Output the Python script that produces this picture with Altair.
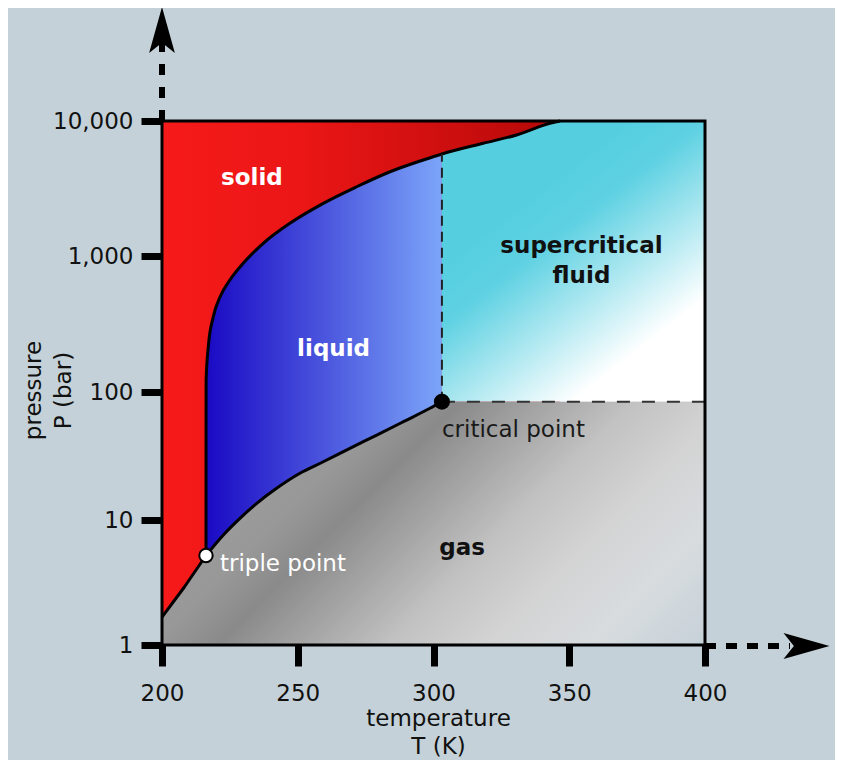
import altair as alt
import pandas as pd

# ---------------- data ----------------
# melting curve (solid | liquid, solid | supercritical), T in K, P in bar
melt_T = [216.2, 216.21, 216.22, 216.23, 216.25, 217.05, 218.9, 221.4, 225.0, 229.9,
          237.3, 247.1, 259.4, 271.7, 284.0, 296.2, 303.1, 318.3, 330.6, 342.9, 346.6]
melt_P = [5.2, 11.3, 27.7, 68.2, 122.5, 215, 358, 502, 666, 883,
          1242, 1746, 2455, 3258, 4207, 5140, 5700, 6842, 7875, 9615, 10000]
# sublimation curve (solid | gas)
sub_T = [200.0, 208.25, 216.2]
sub_P = [1.67, 2.91, 5.2]
# vaporisation curve (liquid | gas)
vap_T = [216.2, 222.6, 228.7, 234.9, 242.2, 250.8, 259.4, 269.2, 279.1, 288.9, 298.7, 303.1]
vap_P = [5.2, 7.59, 10.3, 13.5, 17.7, 23.2, 28.5, 36.3, 46.1, 58.6, 74.6, 84.0]

triple_T, triple_P = 216.2, 5.2
crit_T, crit_P = 303.1, 84.0

T_range = [200, 400]
P_range = [1, 10000]
T_ticks = [200, 250, 300, 350, 400]
P_ticks = [1, 10, 100, 1000, 10000]

region_white = ["solid", "liquid"]
region_white_T = [233.1, 263.2]
region_white_P = [3357, 184]
region_black = ["supercritical", "fluid", "gas"]
region_black_T = [354.5, 354.5, 310.5]
region_black_P = [1052, 638, 5.25]

# ---------------- scales and axes ----------------
FONT = "DejaVu Sans"
xs = alt.Scale(domain=T_range, nice=False, zero=False)
ys = alt.Scale(type="log", domain=P_ticks, range=[524, 399, 271, 135, 0], nice=False)

xaxis = alt.Axis(values=T_ticks, format="d", title=["temperature", "T (K)"], grid=False,
                 domain=False, tickColor="black", tickWidth=7, tickSize=21, tickCap="butt",
                 labelFont=FONT, labelFontSize=23, labelColor="#111111", labelPadding=16,
                 labelFlush=False, labelOverlap=False,
                 titleFont=FONT, titleFontSize=23, titleFontWeight="normal", titleColor="#111111",
                 titleX=276, titleY=80, titleAlign="center", titleBaseline="alphabetic",
                 titleLineHeight=28)
yaxis = alt.Axis(values=P_ticks, labelExpr="format(datum.value, ',')", title=["pressure", "P (bar)"],
                 grid=False, domain=False, tickColor="black", tickWidth=7, tickSize=21, tickCap="butt",
                 labelFont=FONT, labelFontSize=23, labelColor="#111111", labelPadding=8,
                 labelFlush=False, labelOverlap=False,
                 titleFont=FONT, titleFontSize=23, titleFontWeight="normal", titleColor="#111111",
                 titleAngle=270, titleX=-122, titleY=269, titleAlign="center",
                 titleBaseline="alphabetic", titleLineHeight=30)


def X(f="T"):
    return alt.X(f"{f}:Q", scale=xs, axis=xaxis)


def Y(f="P"):
    return alt.Y(f"{f}:Q", scale=ys, axis=yaxis)


GS = alt.GradientStop
red_grad = alt.Gradient(gradient="linear", x1=0, y1=0, x2=1, y2=0,
                        stops=[GS(color="#f61a1a", offset=0), GS(color="#eb1616", offset=0.35),
                               GS(color="#cb0e0e", offset=0.75), GS(color="#b20808", offset=1)])
blue_grad = alt.Gradient(gradient="linear", x1=0, y1=0, x2=1, y2=0,
                         stops=[GS(color="#1a0ac4", offset=0), GS(color="#4a55dd", offset=0.5),
                                GS(color="#7ca5f9", offset=1)])
cyan_grad = alt.Gradient(gradient="linear", x1=0.3, y1=0.3, x2=0.7, y2=0.85,
                         stops=[GS(color="#55cfe0", offset=0), GS(color="#5ed1e2", offset=0.25),
                                GS(color="#ffffff", offset=1)])
gas_grad = alt.Gradient(gradient="linear", x1=0, y1=0, x2=1.206, y2=0.542,
                        stops=[GS(color="#a4a4a4", offset=0), GS(color="#989898", offset=0.3),
                               GS(color="#8a8a8a", offset=0.38), GS(color="#c2c2c2", offset=0.6),
                               GS(color="#d3d3d3", offset=0.72), GS(color="#d8dcdf", offset=0.85),
                               GS(color="#c6d1d8", offset=1)])

# ---------------- tables ----------------
red_df = pd.DataFrame({"T": [T_range[0]], "T2": [melt_T[-1]], "P": [P_range[0]], "P2": [P_range[1]]})

blue_pts = [(t, p) for t, p in zip(melt_T, melt_P) if t <= crit_T]
blue_df = pd.DataFrame({"T": [t for t, _ in blue_pts], "P": [p for _, p in blue_pts],
                        "B": [float(P_range[0])] * len(blue_pts)})

sc_pts = [(t, p) for t, p in zip(melt_T, melt_P) if t >= crit_T] + [(T_range[1], P_range[1])]
sc_df = pd.DataFrame({"T": [t for t, _ in sc_pts], "P": [p for _, p in sc_pts],
                      "B": [crit_P] * len(sc_pts)})

gas_T = sub_T + vap_T[1:] + [T_range[1]]
gas_P = sub_P + vap_P[1:] + [crit_P]
gas_df = pd.DataFrame({"T": gas_T, "P": gas_P, "B": [float(P_range[0])] * len(gas_T)})

melt_df = pd.DataFrame({"T": melt_T, "P": melt_P})
melt_df["i"] = range(len(melt_df))
sub_df = pd.DataFrame({"T": sub_T, "P": sub_P})
sub_df["i"] = range(len(sub_df))
vap_df = pd.DataFrame({"T": vap_T, "P": vap_P})
vap_df["i"] = range(len(vap_df))

melt_at_crit = melt_P[melt_T.index(crit_T)]
vdash_df = pd.DataFrame({"T": [crit_T], "P": [crit_P], "P2": [melt_at_crit]})
hdash_df = pd.DataFrame({"T": [crit_T], "T2": [T_range[1]], "P": [crit_P]})
crit_df = pd.DataFrame({"T": [crit_T], "P": [crit_P], "label": ["critical point"]})
triple_df = pd.DataFrame({"T": [triple_T], "P": [triple_P], "label": ["triple point"]})
white_df = pd.DataFrame({"T": region_white_T, "P": region_white_P, "label": region_white})
black_df = pd.DataFrame({"T": region_black_T, "P": region_black_P, "label": region_black})
frame_df = pd.DataFrame({"T": [T_range[0]], "T2": [T_range[1]], "P": [P_range[0]], "P2": [P_range[1]]})
dummy = pd.DataFrame({"a": [0]})

# ---------------- layers ----------------
red = alt.Chart(red_df).mark_rect(fill=red_grad, strokeWidth=0).encode(
    x=X(), x2="T2:Q", y=Y(), y2="P2:Q")
blue = alt.Chart(blue_df).mark_area(color=blue_grad, opacity=1).encode(
    x=X(), y=Y(), y2=alt.Y2("B:Q"))
cyan = alt.Chart(sc_df).mark_area(color=cyan_grad, opacity=1).encode(
    x=X(), y=Y(), y2=alt.Y2("B:Q"))
gas = alt.Chart(gas_df).mark_area(color=gas_grad, opacity=1).encode(
    x=X(), y=Y(), y2=alt.Y2("B:Q"))

melt_line = alt.Chart(melt_df).mark_line(color="black", strokeWidth=3, strokeJoin="round",
                                         interpolate="monotone").encode(x=X(), y=Y(), order="i:Q")
sub_line = alt.Chart(sub_df).mark_line(color="black", strokeWidth=3, strokeJoin="round").encode(
    x=X(), y=Y(), order="i:Q")
vap_line = alt.Chart(vap_df).mark_line(color="black", strokeWidth=3, strokeJoin="round",
                                       interpolate="monotone").encode(x=X(), y=Y(), order="i:Q")

vdash = alt.Chart(vdash_df).mark_rule(color="#222222", strokeWidth=2, strokeDash=[10, 6]).encode(
    x=X(), y=Y(), y2="P2:Q")
hdash = alt.Chart(hdash_df).mark_rule(color="#333333", strokeWidth=2, strokeDash=[13, 12]).encode(
    x=X(), x2="T2:Q", y=Y())

crit_pt = alt.Chart(crit_df).mark_point(shape="circle", filled=True, color="black", size=256,
                                        opacity=1).encode(x=X(), y=Y())
triple_pt = alt.Chart(triple_df).mark_point(shape="circle", filled=True, fill="white", stroke="black",
                                            strokeWidth=2, size=180, opacity=1).encode(x=X(), y=Y())

crit_txt = alt.Chart(crit_df).mark_text(font=FONT, fontSize=23, color="#1a1a1a", align="left",
                                        baseline="alphabetic", dx=0, dy=35).encode(
    x=X(), y=Y(), text="label:N")
triple_txt = alt.Chart(triple_df).mark_text(font=FONT, fontSize=23, color="white", align="left",
                                            baseline="alphabetic", dx=14, dy=16).encode(
    x=X(), y=Y(), text="label:N")
white_txt = alt.Chart(white_df).mark_text(font=FONT, fontSize=23, fontWeight="bold", color="white",
                                          align="center", baseline="alphabetic").encode(
    x=X(), y=Y(), text="label:N")
black_txt = alt.Chart(black_df).mark_text(font=FONT, fontSize=23, fontWeight="bold", color="#111111",
                                          align="center", baseline="alphabetic").encode(
    x=X(), y=Y(), text="label:N")

frame = alt.Chart(frame_df).mark_rect(filled=False, stroke="black", strokeWidth=3).encode(
    x=X(), x2="T2:Q", y=Y(), y2="P2:Q")

UP = "M0,-1L0.56,1L0,0.55L-0.56,1Z"
RIGHT = "M1,0L-1,-0.56L-0.55,0L-1,0.56Z"
y_arrow = alt.Chart(dummy).mark_rule(color="black", strokeWidth=6, strokeDash=[11, 12]).encode(
    x=alt.value(0), y=alt.value(0), y2=alt.value(-80))
y_head = alt.Chart(dummy).mark_point(shape=UP, size=2116, filled=True, color="black",
                                     opacity=1, strokeWidth=0).encode(x=alt.value(0), y=alt.value(-91))
x_arrow = alt.Chart(dummy).mark_rule(color="black", strokeWidth=6, strokeDash=[11, 10]).encode(
    x=alt.value(543), x2=alt.value(628), y=alt.value(525))
x_head = alt.Chart(dummy).mark_point(shape=RIGHT, size=2116, filled=True, color="black",
                                     opacity=1, strokeWidth=0).encode(x=alt.value(644.5), y=alt.value(525))

chart = alt.layer(
    red, blue, cyan, gas, melt_line, sub_line, vap_line, vdash, hdash,
    crit_pt, triple_pt, crit_txt, triple_txt, white_txt, black_txt, frame,
    y_arrow, y_head, x_arrow, x_head,
).properties(
    width=543, height=524,
    padding={"left": 154, "top": 113, "right": 130, "bottom": 115},
    autosize=alt.AutoSizeParams(type="none"),
    background="#c5d1d8",
).configure_view(stroke="transparent")

chart.save("out.html", embed_options={"renderer": "svg", "actions": False})
